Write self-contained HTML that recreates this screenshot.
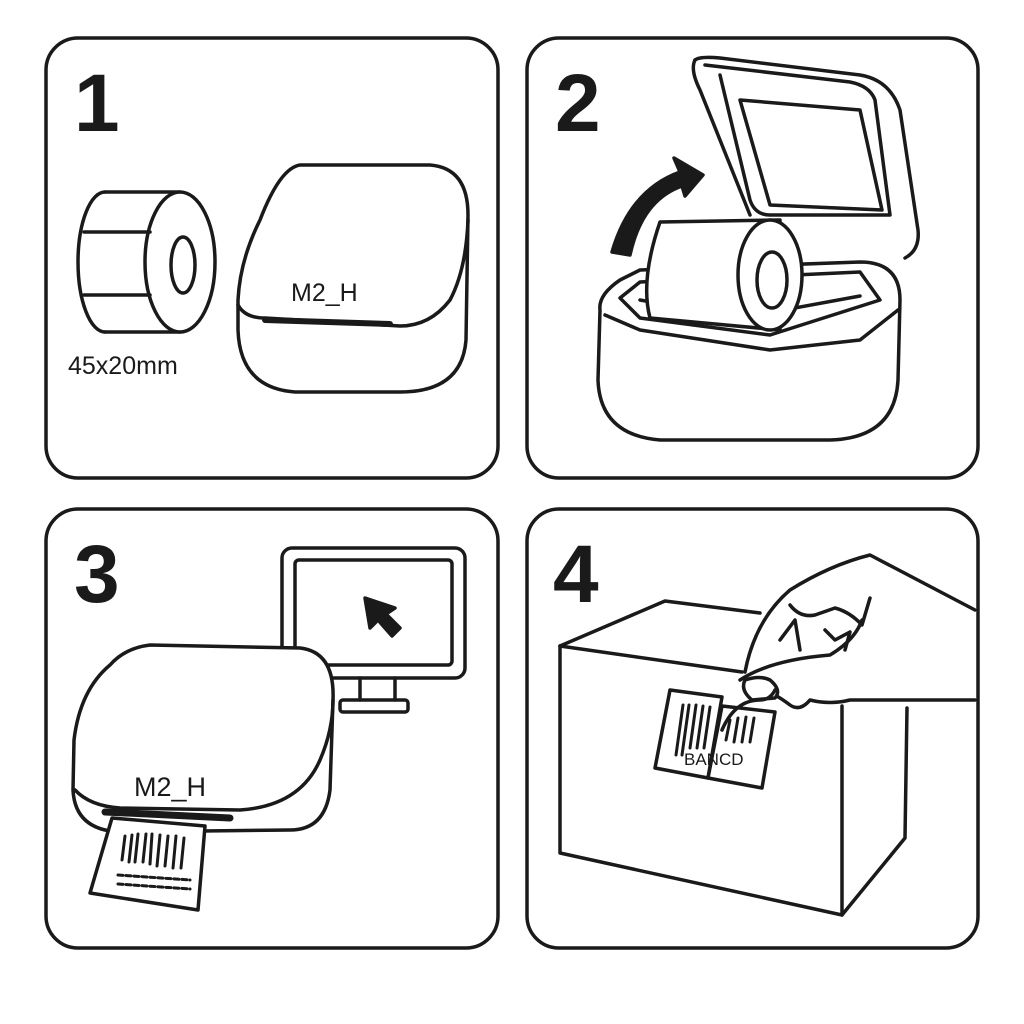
<!DOCTYPE html>
<html><head><style>html,body{margin:0;padding:0;background:#fff}svg{display:block}</style></head><body>
<svg width="1024" height="1024" viewBox="0 0 1024 1024" xmlns="http://www.w3.org/2000/svg" fill="none" stroke="#1a1a1a" stroke-width="3.5" stroke-linejoin="round" stroke-linecap="round">
<rect width="1024" height="1024" fill="#fff" stroke="none"/>
<!-- panels -->
<rect x="46" y="38" width="452" height="440" rx="32"/>
<rect x="527" y="38" width="451" height="440" rx="32"/>
<rect x="46" y="509" width="452" height="439" rx="32"/>
<rect x="527" y="509" width="451" height="439" rx="32"/>
<g font-family="Liberation Sans, sans-serif" font-weight="bold" font-size="82" fill="#1a1a1a" stroke="none">
<text x="74" y="131">1</text><text x="555" y="131">2</text><text x="74" y="602">3</text><text x="553" y="602">4</text>
</g>
<!-- Panel 1 roll -->
<path d="M105 192 L180 192 M105 332 L180 332"/>
<path d="M105 192 A27 70 0 0 0 105 332"/>
<ellipse cx="180" cy="262" rx="35" ry="70" fill="#fff"/>
<ellipse cx="183" cy="265" rx="12" ry="28"/>
<path d="M84 232 L150 232 M84 295 L150 295"/>
<text x="68" y="374" font-family="Liberation Sans, sans-serif" font-size="25" fill="#1a1a1a" stroke="none">45x20mm</text>
<!-- Panel 1 printer -->
<path d="M300 165 L430 165 Q468 168 468 215 L466 340 Q462 392 400 392 L295 392 Q240 388 238 330 L238 300 Q240 260 260 220 Q280 168 300 165 Z"/>
<path d="M238 305 Q245 318 265 318 L400 326 Q430 326 450 300 Q466 270 468 220"/>
<path d="M265 320 L390 324" stroke-width="6"/>
<text x="291" y="301" font-family="Liberation Sans, sans-serif" font-size="25" fill="#1a1a1a" stroke="none">M2_H</text>
<!-- Panel 2 -->
<path d="M695 60 Q700 56 720 58 L860 75 Q890 80 900 110 L918 230 Q920 250 905 258" />
<path d="M705 65 L850 82 Q870 86 875 100 L890 215 L770 215 Q755 215 750 200 L720 75"/>
<path d="M695 60 Q690 70 700 90 L750 215"/>
<path d="M740 100 L860 110 L882 210 L770 205 Z"/>
<path d="M600 310 Q598 295 620 280 L640 270 L860 262 Q900 262 900 300 L898 380 Q895 438 830 440 L660 440 Q600 435 598 380 Z"/>
<path d="M605 315 L640 330 L770 350 L860 340 L898 310"/>
<path d="M620 298 L640 282 L860 272 L880 300 L770 335 L640 318 Z"/>
<path d="M640 300 L740 318 L860 296"/>
<path d="M660 222 L780 220 L780 330 L650 318 Q640 280 660 222 Z" fill="#fff"/>
<ellipse cx="770" cy="275" rx="32" ry="55" fill="#fff"/>
<ellipse cx="772" cy="280" rx="15" ry="28"/>
<path d="M612 252 Q630 190 680 172 L674 158 L703 175 L685 196 L682 186 Q642 200 630 255 Z" fill="#1a1a1a"/>
<!-- Panel 3 monitor -->
<rect x="282" y="548" width="183" height="130" rx="10"/>
<rect x="295" y="560" width="157" height="105" rx="4"/>
<path d="M360 678 L360 700 M395 678 L395 700"/>
<rect x="340" y="700" width="68" height="12" rx="3"/>
<path d="M365 598 L370 628 L378 620 L392 636 L400 628 L386 614 L395 608 Z" fill="#1a1a1a"/>
<!-- Panel 3 printer -->
<path d="M150 645 L300 648 Q335 652 333 700 L330 790 Q325 830 290 830 L120 832 Q75 830 73 790 L74 740 Q80 690 110 665 Q125 648 150 645 Z" fill="#fff"/>
<path d="M75 790 Q90 806 120 808 L240 810 Q300 806 320 760 Q333 730 333 700"/>
<path d="M105 812 L230 818" stroke-width="7"/>
<text x="134" y="796" font-family="Liberation Sans, sans-serif" font-size="27" fill="#1a1a1a" stroke="none">M2_H</text>
<path d="M112 818 L205 826 L198 910 L90 893 Z" fill="#fff"/>
<g stroke-width="3">
<path d="M125 836 L122 860 M132 835 L129 862 M138 834 L135 862 M146 834 L143 862 M152 834 L150 864 M160 835 L157 866 M168 836 L165 866 M176 836 L173 868 M184 838 L181 868"/>
<path d="M118 875 L190 880 M118 884 L190 889" stroke-dasharray="5 3"/>
</g>
<!-- Panel 4 box -->
<path d="M560 646 L665 601 L760 613"/>
<path d="M560 646 L742 672"/>
<path d="M560 646 L560 853 L842 915 L905 838 L907 708"/>
<path d="M842 706 L842 915"/>
<!-- hand -->
<path d="M745 672 Q755 620 790 590 Q830 565 870 555 L975 610"/>
<path d="M760 690 Q770 690 790 705 Q800 712 810 700 Q830 705 850 700 L975 700"/>
<path d="M740 680 Q770 660 830 655 Q855 640 862 620 M790 605 Q800 618 815 615 L835 608 Q850 612 862 625 L870 598"/>
<path d="M780 640 L795 620 L800 650 M825 630 L835 640 L850 632 L845 650"/>
<path d="M745 680 Q760 675 770 680 Q782 690 775 698 L752 700 Q740 690 745 680 Z" fill="#fff"/>
<!-- label -->
<path d="M670 690 L722 697 L708 778 L655 768 Z" fill="#fff"/>
<path d="M722 706 L775 712 L762 788 L708 778 Z" fill="#fff"/>
<g stroke-width="3">
<path d="M683 705 L676 755 M689 705 L682 755 M696 705 L690 748 M703 706 L697 748 M710 707 L704 748"/>
<path d="M726 740 L730 720 M734 742 L738 718 M742 742 L746 717 M750 742 L754 718"/>
</g>
<text x="684" y="765" font-family="Liberation Sans, sans-serif" font-size="17" fill="#1a1a1a" stroke="none">BANCD</text>
<path d="M722 730 Q735 700 760 700 Q770 700 775 690"/>
</svg>
</body></html>
